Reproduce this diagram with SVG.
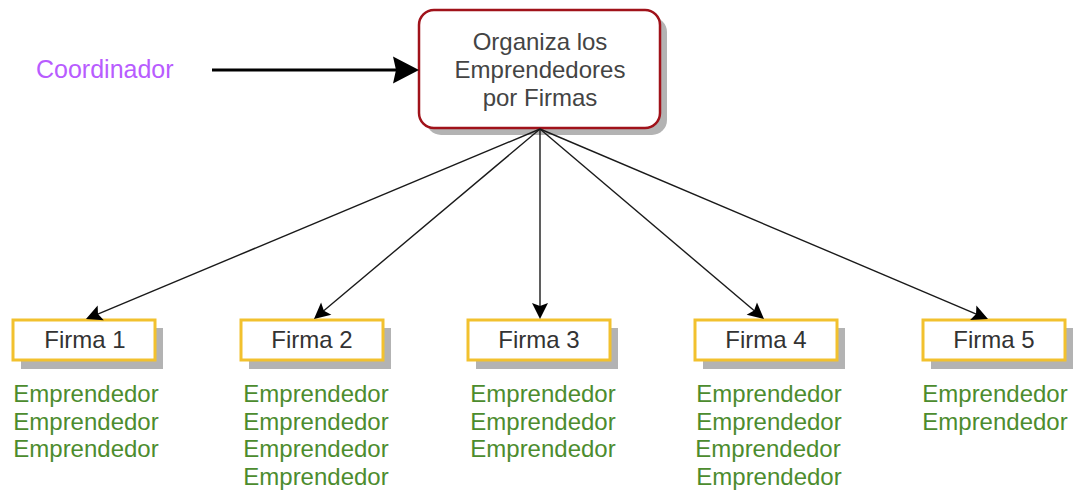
<svg xmlns="http://www.w3.org/2000/svg" width="1076" height="492" viewBox="0 0 1076 492">
<style>
text{font-family:"Liberation Sans",Arial,sans-serif;font-size:24px;text-anchor:middle}
.lbl{fill:#333333}
.main-lbl{fill:#444444}
.emp{fill:#4C8C2E}
.coord{fill:#B85CFF;font-size:25px;text-anchor:start}
.shadow{fill:#b3b3b3}
.firma{fill:#ffffff;stroke:#F2C12E;stroke-width:3}
.main{fill:#ffffff;stroke:#A0121A;stroke-width:2.5}
.edge{fill:none;stroke:#1a1a1a;stroke-width:1.4}
.edge-thick{fill:none;stroke:#000000;stroke-width:3}
</style>
<defs>
<marker id="arr" markerUnits="userSpaceOnUse" markerWidth="18" markerHeight="18" refX="11" refY="8" orient="auto" overflow="visible">
<path d="M0,0 L16,8 L0,16 L3,8 Z" fill="#000"/>
</marker>
<marker id="arrBig" markerUnits="userSpaceOnUse" markerWidth="28" markerHeight="28" refX="5" refY="13.5" orient="auto" overflow="visible">
<path d="M0,0 L26,13.5 L0,27 L3,13.5 Z" fill="#000"/>
</marker>
</defs>

<g id="coordinador">
<text class="coord" x="36" y="78">Coordinador</text>
</g>

<g id="organiza">
<rect class="shadow" x="426" y="17" width="241" height="118" rx="15"/>
<rect class="main" x="419" y="10" width="241" height="118" rx="15"/>
<text class="main-lbl" x="540" y="50">Organiza los</text>
<text class="main-lbl" x="540" y="78">Emprendedores</text>
<text class="main-lbl" x="540" y="106">por Firmas</text>
</g>

<g id="firma1">
<rect class="shadow" x="21" y="328" width="142" height="41"/>
<rect class="firma" x="13" y="320" width="142" height="40"/>
<text class="lbl" x="85" y="348">Firma 1</text>
<text class="emp" x="86" y="402">Emprendedor</text>
<text class="emp" x="86" y="430">Emprendedor</text>
<text class="emp" x="86" y="457">Emprendedor</text>
</g>

<g id="firma2">
<rect class="shadow" x="249" y="328" width="142" height="41"/>
<rect class="firma" x="241" y="320" width="142" height="40"/>
<text class="lbl" x="312" y="348">Firma 2</text>
<text class="emp" x="316" y="402">Emprendedor</text>
<text class="emp" x="316" y="430">Emprendedor</text>
<text class="emp" x="316" y="457">Emprendedor</text>
<text class="emp" x="316" y="485">Emprendedor</text>
</g>

<g id="firma3">
<rect class="shadow" x="476" y="328" width="142" height="41"/>
<rect class="firma" x="468" y="320" width="142" height="40"/>
<text class="lbl" x="539" y="348">Firma 3</text>
<text class="emp" x="543" y="402">Emprendedor</text>
<text class="emp" x="543" y="430">Emprendedor</text>
<text class="emp" x="543" y="457">Emprendedor</text>
</g>

<g id="firma4">
<rect class="shadow" x="703" y="328" width="142" height="41"/>
<rect class="firma" x="695" y="320" width="142" height="40"/>
<text class="lbl" x="766" y="348">Firma 4</text>
<text class="emp" x="769" y="402">Emprendedor</text>
<text class="emp" x="769" y="430">Emprendedor</text>
<text class="emp" x="768" y="457">Emprendedor</text>
<text class="emp" x="769" y="485">Emprendedor</text>
</g>

<g id="firma5">
<rect class="shadow" x="931" y="328" width="142" height="41"/>
<rect class="firma" x="923" y="320" width="142" height="40"/>
<text class="lbl" x="994" y="348">Firma 5</text>
<text class="emp" x="995" y="402">Emprendedor</text>
<text class="emp" x="995" y="430">Emprendedor</text>
</g>

<g id="connectors">
<line class="edge-thick" x1="212" y1="70" x2="398" y2="70" marker-end="url(#arrBig)"/>
<line class="edge" x1="540" y1="129" x2="90.6" y2="317.1" marker-end="url(#arr)"/>
<line class="edge" x1="540" y1="129" x2="317.8" y2="315.8" marker-end="url(#arr)"/>
<line class="edge" x1="540" y1="129" x2="540" y2="314" marker-end="url(#arr)"/>
<line class="edge" x1="540" y1="129" x2="760.2" y2="315.8" marker-end="url(#arr)"/>
<line class="edge" x1="540" y1="129" x2="983.4" y2="317.05" marker-end="url(#arr)"/>
</g>
</svg>
